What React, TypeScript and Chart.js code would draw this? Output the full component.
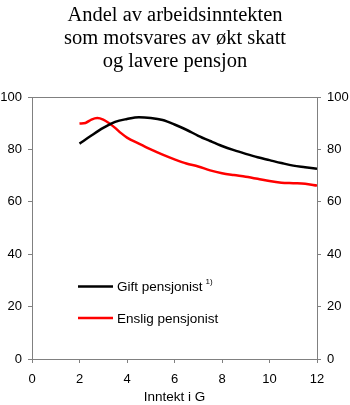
import React, { useEffect, useRef } from "react";
import { Chart, registerables } from "chart.js";

Chart.register(...registerables);

const titleLines = ["Andel av arbeidsinntekten", "som motsvares av økt skatt", "og lavere pensjon"];
const xTitle = "Inntekt i G";
const giftLabel = "Gift pensjonist";
const giftNote = "1)";
const ensligLabel = "Enslig pensjonist";

const giftX = [2, 2.5, 3, 3.5, 4, 4.5, 5, 5.5, 6, 6.5, 7, 7.5, 8, 8.5, 9, 9.5, 10, 10.5, 11, 11.5, 12];
const giftY = [82.2, 85.3, 88.2, 90.5, 91.6, 92.3, 92.0, 91.2, 89.5, 87.5, 85.2, 83.2, 81.3, 79.7, 78.3, 77.0, 75.9, 74.8, 73.8, 73.2, 72.6];

const ensligX = [2, 2.25, 2.5, 2.75, 3, 3.25, 3.5, 3.75, 4, 4.5, 5, 5.5, 6, 6.5, 7, 7.5, 8, 8.5, 9, 9.5, 10, 10.5, 11, 11.5, 12];
const ensligY = [89.9, 90.1, 91.4, 92.0, 91.4, 90.0, 88.2, 86.2, 84.5, 82.2, 80.0, 78.0, 76.2, 74.6, 73.5, 72.0, 70.9, 70.2, 69.6, 68.8, 67.9, 67.3, 67.1, 66.9, 66.2];

const GRAY = "#808080";
const SANS = "'Liberation Sans', Arial, sans-serif";
const SERIF = "'Liberation Serif', 'Times New Roman', serif";

const decorPlugin = {
  id: "decor",
  afterDraw(chart: any) {
    const ctx = chart.ctx;
    const a = chart.chartArea;
    ctx.save();
    ctx.strokeStyle = GRAY;
    ctx.lineWidth = 1;
    ctx.beginPath();
    ctx.moveTo(a.left, a.top + 0.5);
    ctx.lineTo(a.right, a.top + 0.5);
    ctx.stroke();
    ctx.fillStyle = "#000";
    ctx.font = `20.5px ${SERIF}`;
    ctx.textAlign = "center";
    ctx.textBaseline = "alphabetic";
    titleLines.forEach((t, i) => ctx.fillText(t, 175, 21 + i * 23));
    const items = [
      { label: giftLabel, color: "#000000", y: 286.5, note: giftNote },
      { label: ensligLabel, color: "#ff0000", y: 318, note: "" },
    ];
    items.forEach((it) => {
      ctx.strokeStyle = it.color;
      ctx.lineWidth = 2.5;
      ctx.beginPath();
      ctx.moveTo(78, it.y);
      ctx.lineTo(113, it.y);
      ctx.stroke();
      ctx.fillStyle = "#000";
      ctx.font = `13.5px ${SANS}`;
      ctx.textAlign = "left";
      ctx.textBaseline = "middle";
      ctx.fillText(it.label, 117, it.y + 1);
      if (it.note) {
        const w = ctx.measureText(it.label).width;
        ctx.font = `8px ${SANS}`;
        ctx.fillText(it.note, 117 + w + 3, it.y - 5);
      }
    });
    ctx.restore();
  },
};

export default function App() {
  const ref = useRef<HTMLCanvasElement>(null);
  useEffect(() => {
    if (!ref.current) return;
    const tickFont = { family: SANS, size: 13 };
    const chart = new Chart(ref.current, {
      type: "line",
      data: {
        datasets: [
          {
            label: giftLabel,
            data: giftX.map((x, i) => ({ x, y: giftY[i] })),
            borderColor: "#000000",
            borderWidth: 2.5,
            pointRadius: 0,
            cubicInterpolationMode: "monotone",
            yAxisID: "y",
          },
          {
            label: ensligLabel,
            data: ensligX.map((x, i) => ({ x, y: ensligY[i] })),
            borderColor: "#ff0000",
            borderWidth: 2.5,
            pointRadius: 0,
            cubicInterpolationMode: "monotone",
            yAxisID: "y",
          },
        ],
      },
      options: {
        animation: false,
        responsive: false,
        layout: { padding: { top: 97, left: 0, right: 0, bottom: 0 } },
        plugins: { legend: { display: false }, title: { display: false }, tooltip: { enabled: false } },
        scales: {
          x: {
            type: "linear",
            min: 0,
            max: 12,
            ticks: { stepSize: 2, color: "#000", font: tickFont, padding: 9, maxRotation: 0 },
            grid: { drawOnChartArea: false, drawTicks: true, tickLength: 4, color: GRAY },
            border: { display: true, color: GRAY },
            title: { display: true, text: xTitle, color: "#000", font: { family: SANS, size: 13.5 }, padding: { top: 2, bottom: 0 } },
            afterFit(s: any) { s.height = 46; },
          },
          y: {
            position: "left",
            min: 0,
            max: 100,
            ticks: { stepSize: 20, color: "#000", font: tickFont, padding: 6 },
            grid: { drawOnChartArea: false, drawTicks: true, tickLength: 4, color: GRAY },
            border: { display: true, color: GRAY },
            afterFit(s: any) { s.width = 32; },
          },
          y2: {
            position: "right",
            min: 0,
            max: 100,
            ticks: { stepSize: 20, color: "#000", font: tickFont, padding: 6 },
            grid: { drawOnChartArea: false, drawTicks: true, tickLength: 4, color: GRAY },
            border: { display: true, color: GRAY },
            afterFit(s: any) { s.width = 33; },
          },
        },
      },
      plugins: [decorPlugin],
    } as any);
    return () => chart.destroy();
  }, []);
  return (
    <div style={{ position: "absolute", left: 0, top: 0, width: 350, height: 405, background: "#fff" }}>
      <canvas ref={ref} width={350} height={405} style={{ width: 350, height: 405 }} />
    </div>
  );
}
